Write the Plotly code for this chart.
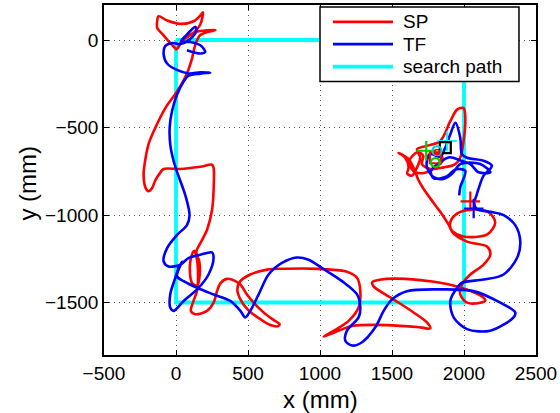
import plotly.graph_objects as go

# ---- data (mm) ----
sp_x = [7, -40, -88, -130, -132, -121, -62, 30, 122, 169, 187, 169, 120, 51, 9, 51, 134, 273, 169, 134,
        111, 76, 7, -74, -144, -191, -218, -225, -213, -191, -167, -144, -109, -86, 30, 169, 250, 261, 261, 250,
        215, 169, 141, 162, 165, 148, 113, 96, 106, 127, 148, 148, 122, 103, 134, 215, 261, 285, 308, 354,
        412, 447, 493, 539, 606, 669, 719, 710, 655, 585, 502, 447, 426, 447, 516, 632, 771, 990, 1176, 1257,
        1280, 1268, 1199, 1106, 1025, 1141, 1233, 1465, 1696, 1766, 1743, 1650, 1511, 1372, 1363, 1465, 1696, 1882, 1997, 2113,
        2148, 2113, 2021, 1974, 1986, 2044, 2136, 2183, 2160, 2021, 1917, 1905, 1952, 2044, 2169, 2217, 2162, 1995, 1919, 1891,
        1835, 1766, 1719, 1685, 1650, 1613, 1546, 1592, 1615, 1606, 1639, 1674, 1696, 1674, 1743, 1835, 1905, 1952, 1997, 2009,
        1997, 1974, 1940, 1858, 1766, 1708, 1717, 1680, 1620, 1650, 1720, 1790, 1850, 1840, 1780, 1740]
sp_y = [-58, -17, 28, 68, 96, 136, 111, 92, 107, 140, 158, 90, 40, 0, -51, 6, 45, 57, 28, -28,
        -106, -191, -294, -389, -502, -596, -709, -765, -841, -864, -848, -803, -758, -737, -737, -724, -713, -730, -860, -973,
        -1086, -1161, -1210, -1267, -1340, -1403, -1391, -1312, -1239, -1205, -1267, -1425, -1491, -1548, -1567, -1548, -1501, -1435, -1391, -1365,
        -1378, -1397, -1454, -1501, -1555, -1595, -1623, -1635, -1629, -1595, -1544, -1482, -1425, -1378, -1340, -1312, -1307, -1308, -1322, -1359,
        -1435, -1529, -1605, -1657, -1695, -1657, -1633, -1629, -1642, -1648, -1614, -1557, -1482, -1408, -1384, -1365, -1372, -1394, -1420, -1459,
        -1488, -1501, -1501, -1454, -1397, -1340, -1284, -1227, -1180, -1152, -1096, -1041, -992, -970, -984, -1041, -1111, -1123, -1092, -1052,
        -982, -905, -850, -803, -730, -679, -645, -673, -728, -764, -775, -728, -671, -624, -605, -577, -464, -398, -389, -445,
        -577, -671, -709, -728, -737, -709, -662, -640, -690, -750, -760, -735, -690, -655, -645, -670]

tf_x = [76, 169, 203, 169, 99, 37, 72, 106, 134, 141, 99, 30, -26, -74, -86, -62, 7, 87, 169, 238,
        169, 87, 53, 7, -28, -44, -40, -17, 9, 65, 94, 76, 7, -62, -86, -51, 30, 87, 169, 250,
        261, 226, 157, 53, -17, -40, -40, -5, 18, 42, 7, 53, 146, 261, 377, 447, 481, 516, 574, 643,
        736, 840, 921, 1014, 1153, 1257, 1280, 1268, 1187, 1176, 1222, 1292, 1384, 1442, 1500, 1604, 1835, 2067, 2252, 2356,
        2344, 2183, 2021, 1928, 1905, 1952, 1986, 2136, 2275, 2368, 2391, 2356, 2275, 2183, 2090, 2071, 2089, 2101, 2136, 2183,
        2194, 2136, 2021, 1986, 1974, 1940, 1905, 1870, 1835, 1766, 1743, 1743, 1789, 1858, 1917, 1974, 2113, 2183, 2101, 2044,
        1980, 1900, 1830, 1770, 1790, 1880, 1940, 2009, 1974, 1967]
tf_y = [-58, -77, -68, -30, -11, -6, 28, 57, 76, 51, 6, -23, -17, -34, -79, -134, -171, -191, -185, -187,
        -192, -204, -238, -313, -407, -502, -596, -690, -758, -888, -1001, -1058, -1114, -1189, -1265, -1294, -1284, -1246, -1227, -1214,
        -1246, -1340, -1416, -1491, -1548, -1529, -1454, -1359, -1303, -1267, -1350, -1378, -1416, -1454, -1491, -1548, -1585, -1548, -1454, -1340,
        -1274, -1243, -1256, -1303, -1378, -1454, -1529, -1585, -1661, -1718, -1746, -1727, -1642, -1548, -1482, -1435, -1425, -1435, -1501, -1557,
        -1585, -1661, -1652, -1585, -1491, -1416, -1387, -1369, -1340, -1246, -1152, -1058, -1001, -982, -967, -933, -882, -850, -775, -735,
        -718, -690, -673, -652, -558, -473, -539, -615, -667, -652, -690, -728, -784, -794, -765, -709, -709, -756, -756, -709,
        -690, -670, -700, -750, -790, -780, -740, -747, -841, -888]

path_x = [0, 0, 2000, 2000, 0]
path_y = [0, -1500, -1500, 0, 0]

# end / target markers
sp_end = (2044, -922)
tf_end = (2067, -963)
green_plus = (1738, -633)
cyan_plus = (1882, -577)
black_square = (1870, -615)
red_square = (1801, -673)
cyan_circle = (1812, -633)
green_circle = (1801, -700)
red_circle = (1812, -640)

x_ticks = [-500, 0, 500, 1000, 1500, 2000, 2500]
y_ticks = [-1500, -1000, -500, 0]

legend_names = ["SP", "TF", "search path"]
legend_colors = ["#ff0000", "#0000ff", "#00ffff"]

FONT = "Liberation Sans, Arial, sans-serif"

fig = go.Figure()
# search path underneath the trajectories
fig.add_trace(go.Scatter(x=path_x, y=path_y, mode="lines", name=legend_names[2], showlegend=False,
                         line=dict(color=legend_colors[2], width=3.8)))
fig.add_trace(go.Scatter(x=sp_x, y=sp_y, mode="lines", name=legend_names[0], showlegend=False,
                         line=dict(color=legend_colors[0], width=2.6, shape="spline", smoothing=0.9)))
fig.add_trace(go.Scatter(x=tf_x, y=tf_y, mode="lines", name=legend_names[1], showlegend=False,
                         line=dict(color=legend_colors[1], width=2.6, shape="spline", smoothing=0.9)))


def mk(pt, symbol, color, size, width=2.2):
    fig.add_trace(go.Scatter(x=[pt[0]], y=[pt[1]], mode="markers", showlegend=False,
                             marker=dict(symbol=symbol, size=size, color=color,
                                         line=dict(color=color, width=width))))


mk(sp_end, "cross-thin", "#ff0000", 14)
mk(tf_end, "cross-thin", "#0000ff", 14)
mk(green_plus, "cross-thin", "#00cc00", 14)
mk(cyan_plus, "cross-thin", "#00ffff", 14)
mk(black_square, "square-open", "#000000", 11)
mk(red_square, "square-open", "#ff0000", 11)
mk(cyan_circle, "circle-open", "#00cccc", 9)
mk(green_circle, "circle-open", "#00cc00", 9)
mk(red_circle, "circle-open", "#ff0000", 5, 1.5)

axis_common = dict(showline=True, linecolor="#000000", linewidth=1.6, mirror="ticks",
                   ticks="inside", ticklen=5, tickwidth=1, tickcolor="#000000",
                   showgrid=True, gridcolor="#555555", gridwidth=1, griddash="1px,4px",
                   zeroline=False, tickfont=dict(family=FONT, size=19, color="#000000"))

fig.update_xaxes(range=[-500, 2500], tickvals=x_ticks, **axis_common)
fig.update_yaxes(range=[-1800, 200], tickvals=y_ticks, **axis_common)

# legend box drawn in paper coordinates (MATLAB-style long line samples)
shapes = [dict(type="rect", xref="paper", yref="paper", x0=0.5, x1=0.9606, y0=0.7813, y1=0.9943,
               line=dict(color="#000000", width=1.5), fillcolor="white", layer="above")]
annotations = []
legend_rows = [0.9517, 0.8884, 0.8239]
for name, color, yy in zip(legend_names, legend_colors, legend_rows):
    shapes.append(dict(type="line", xref="paper", yref="paper", x0=0.530, x1=0.669, y0=yy, y1=yy,
                       line=dict(color=color, width=2.8 if color != "#00ffff" else 3.6), layer="above"))
    annotations.append(dict(text=name, xref="paper", yref="paper", x=0.6875, y=yy,
                            showarrow=False, xanchor="left", yanchor="middle",
                            font=dict(family=FONT, size=19, color="#000000")))

annotations += [
    dict(text="x (mm)", xref="paper", yref="paper", x=0.5, y=-0.128,
         showarrow=False, xanchor="center", yanchor="middle",
         font=dict(family=FONT, size=24)),
    dict(text="y (mm)", xref="paper", yref="paper", x=-0.178, y=0.49,
         showarrow=False, xanchor="center", yanchor="middle", textangle=-90,
         font=dict(family=FONT, size=24)),
]

fig.update_layout(
    width=560, height=413,
    margin=dict(l=104, r=24, t=3, b=58),
    paper_bgcolor="white", plot_bgcolor="white",
    font=dict(family=FONT, color="#000000"),
    showlegend=False,
    shapes=shapes,
    annotations=annotations,
)

fig.write_html("out.html")
